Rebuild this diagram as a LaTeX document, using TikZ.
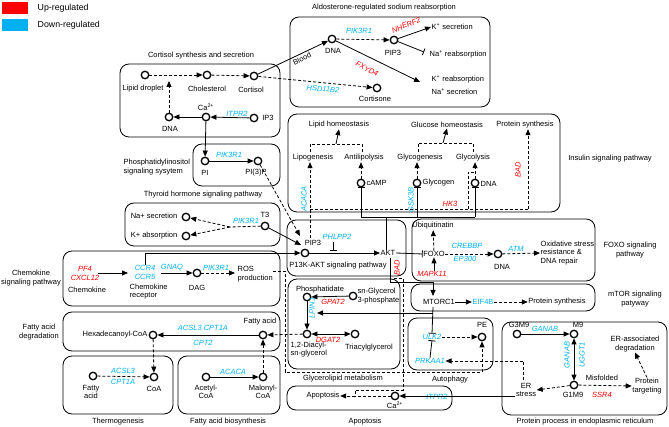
\documentclass[tikz,border=0pt]{standalone}
\usepackage{fontspec}
\setmainfont{Liberation Sans}
\usetikzlibrary{arrows.meta}
\definecolor{upc}{RGB}{255,0,0}
\definecolor{dnc}{RGB}{0,176,240}
\begin{document}
\begin{tikzpicture}[x=1pt,y=-1pt,
 every node/.style={font=\fontsize{7.5}{8.6}\selectfont, inner sep=0.5pt},
 box/.style={draw, rounded corners=9pt, line width=0.8pt},
 met/.style={circle, draw, line width=1.3pt, minimum size=7.5pt, inner sep=0pt},
 gu/.style={text=upc, font=\fontsize{7.5}{8.6}\selectfont\itshape},
 gd/.style={text=dnc, font=\fontsize{7.5}{8.6}\selectfont\itshape},
 arr/.style={-{Triangle[length=6pt,width=5pt]}, line width=0.8pt},
 barr/.style={{Triangle[length=6pt,width=5pt]}-{Triangle[length=6pt,width=5pt]}, line width=0.8pt},
 darr/.style={arr, dash pattern=on 3pt off 2pt},
 dl/.style={line width=0.8pt, dash pattern=on 3pt off 2pt},
 sl/.style={line width=0.8pt},
 inh/.style={-{Bar[width=7pt]}, line width=0.8pt},
 lg/.style={font=\fontsize{8.8}{10}\selectfont, anchor=west}
]
\useasboundingbox (0,0) rectangle (669,427);
% legend
\node[fill=upc, minimum width=26pt, minimum height=12pt, inner sep=0pt] (lgur) at (15,8) {};
\node[fill=dnc, minimum width=26pt, minimum height=12pt, inner sep=0pt] (lgdr) at (15,25) {};
\node[lg] (lgu) at (37,8) {Up-regulated};
\node[lg] (lgd) at (37,25) {Down-regulated};

% ---------- Cortisol synthesis
\draw[box] (120,64) rectangle (280,137);
\node (tcort) at (201,56) {Cortisol synthesis and secretion};
\node[met] (clip) at (145,75) {};
\node (llip) at (143,89) {Lipid droplet};
\node[met] (cchol) at (207,75) {};
\node (lchol) at (207,89) {Cholesterol};
\node[met] (ccort) at (254,76) {};
\node (lcort) at (251,90) {Cortisol};
\node[met] (cca) at (206,117) {};
\node (lca) at (206,107) {Ca\textsuperscript{2+}};
\node[met] (cdna) at (169,117) {};
\node (lcdna) at (170,129) {DNA};
\node[met] (cip3) at (254,118) {};
\node (lip3) at (268,118) {IP3};
\node[gd] (gitpr2a) at (237,114) {ITPR2};
\coordinate (cup) at (169,81);
\draw[darr] (clip) -- (cchol);
\draw[darr] (cchol) -- (ccort);
\draw[arr] (cca) -- (cdna);
\draw[arr] (cip3) -- (cca);
\draw[darr] (cdna) -- (cup);

% ---------- Aldosterone
\draw[box] (290,17) rectangle (490,107);
\node (tald) at (384,8) {Aldosterone-regulated sodium reabsorption};
\node[met] (adna) at (332,39) {};
\node (ladna) at (333,51) {DNA};
\node[met] (apip3) at (394,40) {};
\node (lapip3) at (393,53) {PIP3};
\node[gd] (gpik1) at (359,31) {PIK3R1};
\node[gu, rotate=22] (gnherf) at (406,25) {NHERF2};
\node[anchor=west] (ksec) at (431,27) {K\textsuperscript{+} secretion};
\node[anchor=west] (nare) at (429,54) {Na\textsuperscript{+} reabsorption};
\node[anchor=west] (krea) at (431,79) {K\textsuperscript{+} reabsorption};
\node[anchor=west] (nasec) at (431,92) {Na\textsuperscript{+} secretion};
\node[met] (cortisone) at (377,88) {};
\node (lcortisone) at (375,99) {Cortisone};
\node[gu, rotate=-27] (gfxyd) at (367,69) {FXYD4};
\node[gd, rotate=-5] (ghsd) at (323,89) {HSD11B2};
\node[rotate=27] (lblood) at (302,59) {Blood};
\coordinate (kreaend) at (420,82);
\coordinate (nareend) at (424,52);
\draw[darr] (adna) -- (apip3);
\draw[arr] (apip3) -- (ksec.west);
\draw[inh] (apip3) -- (nareend);
\draw[arr] (adna) -- (kreaend);
\draw[arr] (ccort) -- (adna);
\draw[darr] (ccort) -- (cortisone);

% ---------- Phosphatidylinositol
\draw[box] (193,144) rectangle (280,186);
\node[anchor=west, align=left] (tpi) at (123,167) {Phosphatidylinositol\\signaling sysytem};
\node[met] (pi) at (205,161) {};
\node (lpi) at (205,173) {PI};
\node[met] (pi3p) at (258,161) {};
\node (lpi3p) at (256,173) {PI(3)P};
\node[gd] (gpik2) at (229,155) {PIK3R1};
\draw[arr] (pi) -- (pi3p);
\draw[arr] (cca) -- (pi);

% ---------- Thyroid
\draw[box] (125,203) rectangle (280,246);
\node (tthy) at (203,195) {Thyroid hormone signaling pathway};
\node[anchor=east] (lnasec) at (178,216) {Na+ secretion};
\node[met] (na) at (186,217) {};
\node[anchor=east] (lkabs) at (178,236) {K+ absorption};
\node[met] (kk) at (186,236) {};
\node[met] (t3) at (265,226) {};
\node (lt3) at (265,215) {T3};
\node[gd] (gpik3) at (246,221) {PIK3R1};
\coordinate (jn) at (230,227);
\draw[dl] (t3) -- (jn);
\draw[darr] (jn) -- (na);
\draw[darr] (jn) -- (kk);

% ---------- Chemokine
\draw[box] (63,251) rectangle (280,306);
\node[align=center] (tchem) at (31,278) {Chemokine\\signaling pathway};
\node[gu] (gpf4) at (85,269) {PF4};
\node[gu] (gcxcl) at (85,278) {CXCL12};
\node (lchem) at (87,290) {Chemokine};
\node[gd] (gccr4) at (145,268) {CCR4};
\node[gd] (gccr5) at (145,277) {CCR5};
\node[anchor=north west, align=left] (lrec) at (129,283) {Chemokine\\receptor};
\node[gd] (ggnaq) at (172,268) {GNAQ};
\node[met] (dag) at (197,273) {};
\node (ldag) at (197,288) {DAG};
\node[gd] (gpik4) at (216,268) {PIK3R1};
\node[anchor=west, align=left] (ros) at (237,274) {ROS\\production};
\coordinate (chemA) at (98,273);
\coordinate (chemB) at (128,273);
\coordinate (ccrA) at (161,273);
\coordinate (rosA) at (235,273);
\draw[arr] (chemA) -- (chemB);
\draw[arr] (ccrA) -- (dag);
\draw[darr] (dag) -- (rosA);

% ---------- Fatty acid degradation
\draw[box] (63,312) rectangle (280,351);
\node[align=center] (tfad) at (39,332) {Fatty acid\\degradation};
\node[anchor=east] (lhex) at (148,335) {Hexadecanoyl-CoA};
\node[met] (hex) at (153,335) {};
\node (lfa) at (260,322) {Fatty acid};
\node[met] (fa) at (263,335) {};
\node[gd] (gacsl) at (203,328) {ACSL3 CPT1A};
\node[gd] (gcpt2) at (203,343) {CPT2};
\draw[arr] (fa) -- (hex);

% ---------- Thermogenesis
\draw[box] (63,356) rectangle (173,414);
\node (tthe) at (118,422) {Thermogenesis};
\node[met] (tfa) at (93,376) {};
\node[align=center] (ltfa) at (91,392) {Fatty\\acid};
\node[met] (coa) at (154,377) {};
\node (lcoa) at (154,389) {CoA};
\node[gd] (gacsl2) at (123,371) {ACSL3};
\node[gd] (gcpt1) at (123,382) {CPT1A};
\draw[darr] (tfa) -- (coa);
\draw[darr] (hex) -- (coa);

% ---------- Fatty acid biosynthesis
\draw[box] (178,356) rectangle (280,414);
\node (tfab) at (228,422) {Fatty acid biosynthesis};
\node[met] (acet) at (206,377) {};
\node[align=center] (lacet) at (206,392) {Acetyl-\\CoA};
\node[met] (malo) at (263,377) {};
\node[align=center] (lmalo) at (263,392) {Malonyl-\\CoA};
\node[gd] (gacaca) at (233,372) {ACACA};
\draw[arr] (acet) -- (malo);
\draw[darr] (malo) -- (fa);

% ---------- Insulin
\draw[box] (288,114) rectangle (560,212);
\node (tins) at (610,159) {Insulin signaling pathway};
\node (lipho) at (339,125) {Lipid homeostasis};
\node (gluho) at (447,125) {Glucose homeostasis};
\node (prsyn) at (525,125) {Protein synthesis};
\node (lipog) at (313,158) {Lipogenesis};
\node (antil) at (364,158) {Antilipolysis};
\node (glycog) at (420,158) {Glycogenesis};
\node (glycol) at (473,158) {Glycolysis};
\node[met] (camp) at (361,183) {};
\node[anchor=west] (lcamp) at (366,183) {cAMP};
\node[met] (glyc) at (417,183) {};
\node[anchor=west] (lglyc) at (422,183) {Glycogen};
\node[met] (idna) at (475,183) {};
\node[anchor=west] (lidna) at (480,184) {DNA};
\node[gd, rotate=90] (gacaca2) at (304,199) {ACACA};
\node[gd, rotate=90] (ggsk) at (411,200) {GSK3B};
\node[gu, rotate=90] (gbad1) at (518,170) {BAD};
\node[gu] (ghk3) at (450,204) {HK3};
\draw[dl] (310,152) -- (310,144) -- (362,144) -- (362,152);
\draw[arr] (336,144) -- (lipho.south);
\draw[dl] (418,152) -- (418,143) -- (473,143) -- (473,152);
\draw[arr] (443,143) -- (gluho.south);
\coordinate (acacatop) at (310,238);
\draw[darr] (acacatop) -- (lipog.south -| acacatop);
\draw[dl] (310,209) -- (528,209);
\draw[darr] (528,209) -- (prsyn.south -| 528,0);
\draw[darr] (camp) -- (antil.south -| camp);
\draw[darr] (glyc) -- (glycog.south -| glyc);
\draw[dl] (468,209) -- (468,172) -- (475,172);
\draw[darr] (idna) -- (glycol.south -| idna);

% ---------- PI3K-AKT
\draw[box] (287,220) rectangle (406,276);
\node[met] (pip3) at (305,253) {};
\node (lpip3) at (313,243) {PIP3};
\node (tpi3k) at (338,266) {P13K-AKT signaling pathway};
\node (akt) at (388,253) {AKT};
\node[gd] (gphl) at (337,237) {PHLPP2};
\draw[arr] (pip3) -- (akt.west);
\draw[inh] (333,242) -- (333,251);
\coordinate (pi3ptip) at (300,236);
\coordinate (t3tip) at (301,245);
\draw[darr] (pi3p) -- (pi3ptip);
\draw[arr] (t3) -- (t3tip);
\draw[arr] (gccr4.north) -- (145,253) -- (pip3);
% AKT to insulin
\draw[sl] (akt.north -| 386,0) -- (386,217);
\draw[sl] (361,217) -- (475,217);
\draw[inh] (361,217) -- (camp.south);
\draw[inh] (417,217) -- (glyc.south);
\draw[inh] (475,217) -- (idna.south);

% ---------- FOXO
\draw[box] (412,219) rectangle (595,281);
\node (ubi) at (433,226) {Ubiquitinatin};
\node (foxo) at (434,254) {FOXO};
\node[gd] (gcreb) at (467,246) {CREBBP};
\node[gd] (gep) at (465,259) {EP300};
\node[met] (fdna) at (498,254) {};
\node (lfdna) at (502,267) {DNA};
\node[gd] (gatm) at (516,249) {ATM};
\node[anchor=west, align=left] (oxi) at (540,253) {Oxidative stress\\resistance \&\\DNA repair};
\node[align=center] (tfoxo) at (630,250) {FOXO signaling\\pathway};
\node[gu] (gmapk) at (432,274) {MAPK11};
\draw[inh] (akt.east) -- (foxo.west);
\draw[darr] (foxo) -- (ubi);
\draw[arr] (gmapk.north -| foxo) -- (foxo);
\draw[darr] (foxo) -- (fdna);
\draw[darr] (fdna) -- (oxi.west);

% ---------- mTOR
\draw[box] (411,284) rectangle (595,311);
\node (mtor) at (439,302) {MTORC1};
\node[text=dnc] (eif) at (483,302) {EIF4B};
\node (prsyn2) at (557,302) {Protein synthesis};
\node[align=center] (tmtor) at (635,299) {mTOR signaling\\patyway};
\draw[arr] (mtor) -- (eif);
\draw[darr] (eif) -- (prsyn2);
\draw[arr] (390,258) -- (390,282) -- (433,282) -- (433,296);

% ---------- Glycerolipid
\draw[box] (288,279) rectangle (400,369);
\node (tgly) at (343,379) {Glycerolipid metabolism};
\node[met] (phos) at (307,297) {};
\node (lphos) at (320,290) {Phosphatidate};
\node[met] (sng) at (353,296) {};
\node[anchor=west, align=left] (lsng) at (357,296) {sn-Glycerol\\3-phosphate};
\node[gu] (ggpat) at (333,302) {GPAT2};
\node[gd, rotate=90] (glpin) at (312,308) {LPIN1};
\node[met] (dag12) at (307,334) {};
\node[anchor=north west, align=left] (ldag12) at (290,341) {1,2-Diacyl-\\sn-glycerol};
\node[met] (tag) at (355,334) {};
\node (ltag) at (369,348) {Triacylglycerol};
\node[gu] (gdgat) at (328,340) {DGAT2};
\draw[arr] (sng) -- (phos);
\draw[arr] (phos) -- (dag12);
\draw[barr] (dag12) -- (tag);
\draw[darr] (dag12) -- (fa);
\draw[arr] (433,313) -- (317,313);

% ---------- Autophagy
\draw[box] (408,318) rectangle (493,370);
\node (taut) at (450,380) {Autophagy};
\node[gd] (gulk) at (432,337) {ULK2};
\node[met] (pe) at (482,337) {};
\node (lpe) at (482,325) {PE};
\node[gd] (gprk) at (430,361) {PRKAA1};
\draw[inh] (433,307) -- (gulk.north);
\draw[inh] (gprk.north) -- (gulk.south);
\draw[darr] (gulk) -- (pe);
\draw[dl] (ros.east |- 0,271) -- (285,271) -- (285,372) -- (482,372);
\draw[darr] (482,372) -- (pe);

% ---------- Apoptosis
\draw[box] (287,386) rectangle (452,410);
\node (tapo) at (365,422) {Apoptosis};
\node (apo) at (323,396) {Apoptosis};
\node[met] (apca) at (395,396) {};
\node (lapca) at (395,405) {Ca\textsuperscript{2+}};
\node[gd] (gitpr2b) at (437,397) {ITPR2};
\node[gu, rotate=90] (gbad2) at (397,268) {BAD};
\draw[dl] (394,278) -- (403,278) -- (403,390) -- (355,390) -- (355,396);
\draw[darr] (355,396) -- (apo.east);
\draw[dl] (apca) -- (355,396);

% ---------- ER
\draw[box] (502,322) rectangle (667,415);
\node (ter) at (585,422) {Protein process in endoplasmic reticulum};
\node[met] (g3m9) at (517,334) {};
\node (lg3m9) at (519,325) {G3M9};
\node[gd] (gganab) at (545,329) {GANAB};
\node[met] (m9) at (574,334) {};
\node (lm9) at (578,325) {M9};
\node[met] (g1m9) at (574,385) {};
\node (lg1m9) at (573,395) {G1M9};
\node[gd, rotate=90] (gganab2) at (567,355) {GANAB};
\node[gd, rotate=90] (guggt) at (582,355) {UGGT1};
\node[align=center] (erad) at (635,344) {ER-associated\\degradation};
\node (misf) at (602,378) {Misfolded};
\node[gu] (gssr) at (602,395) {SSR4};
\node[align=center] (ptarg) at (647,386) {Protein\\targeting};
\node[align=center] (erst) at (526,390) {ER\\stress};
\draw[arr] (g3m9) -- (m9);
\draw[barr] (m9) -- (g1m9);
\draw[darr] (g1m9) -- (erst.east);
\draw[darr] (g1m9) -- (ptarg.west);
\draw[darr] (ptarg.north) -- (erad.south);
\draw[dl] (523,380) -- (523,361);
\draw[darr] (523,361) -- (gprk.east);
\draw[arr] (erst.west |- 0,396) -- (apca);
\end{tikzpicture}
\end{document}
